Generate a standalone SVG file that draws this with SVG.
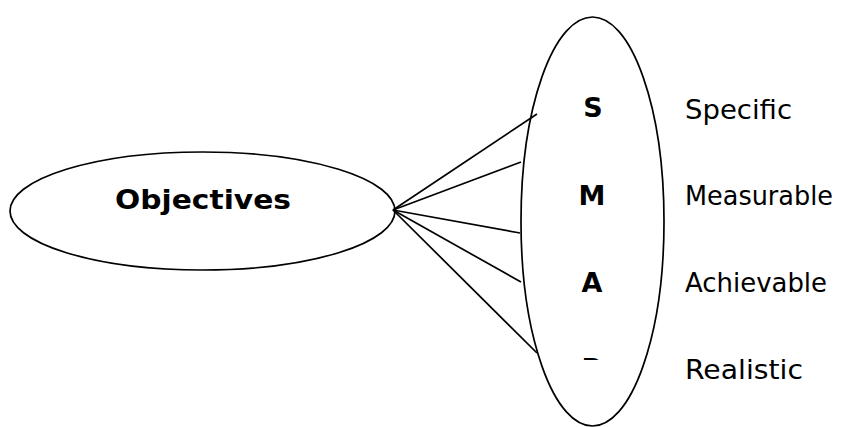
<svg xmlns="http://www.w3.org/2000/svg" width="853" height="427" viewBox="0 0 853 427">
  <style>
    .shape { fill: #ffffff; stroke: #000000; stroke-width: 1.7; }
    .link { stroke: #000000; stroke-width: 1.7; fill: none; }
    .bold { font-family: "DejaVu Sans", Verdana, sans-serif; font-weight: bold; font-size: 27px; fill: #000000; }
    .word { font-family: "DejaVu Sans", Verdana, sans-serif; font-size: 27px; fill: #000000; }
  </style>
  <defs>
    <!-- only the top edge of the last letter shows inside the ellipse -->
    <clipPath id="clip-r">
      <rect x="570" y="340" width="50" height="20"/>
    </clipPath>
  </defs>
  <rect width="853" height="427" fill="#ffffff"/>

  <g id="node-objectives">
    <ellipse class="shape" cx="202.5" cy="211" rx="192.5" ry="59"/>
    <text class="bold" x="115" y="209" textLength="176" lengthAdjust="spacingAndGlyphs">Objectives</text>
  </g>

  <g id="node-smart">
    <ellipse class="shape" cx="592.5" cy="221.5" rx="71.5" ry="204.5"/>
    <text class="bold" x="593" y="117" text-anchor="middle">S</text>
    <text class="bold" x="592" y="205" text-anchor="middle">M</text>
    <text class="bold" x="592" y="292" text-anchor="middle">A</text>
    <text class="bold" x="592" y="378" text-anchor="middle" clip-path="url(#clip-r)">R</text>
  </g>

  <g id="connectors">
    <line class="link" x1="393" y1="210" x2="537" y2="114"/>
    <line class="link" x1="393" y1="210" x2="521" y2="162"/>
    <line class="link" x1="393" y1="210" x2="520" y2="233"/>
    <line class="link" x1="393" y1="210" x2="521" y2="282"/>
    <line class="link" x1="393" y1="210" x2="537" y2="353"/>
  </g>

  <g id="labels">
    <text class="word" x="685" y="119" textLength="107" lengthAdjust="spacingAndGlyphs">Specific</text>
    <text class="word" x="685" y="205" textLength="148" lengthAdjust="spacingAndGlyphs">Measurable</text>
    <text class="word" x="685" y="292" textLength="142" lengthAdjust="spacingAndGlyphs">Achievable</text>
    <text class="word" x="685" y="379" textLength="118" lengthAdjust="spacingAndGlyphs">Realistic</text>
  </g>
</svg>
